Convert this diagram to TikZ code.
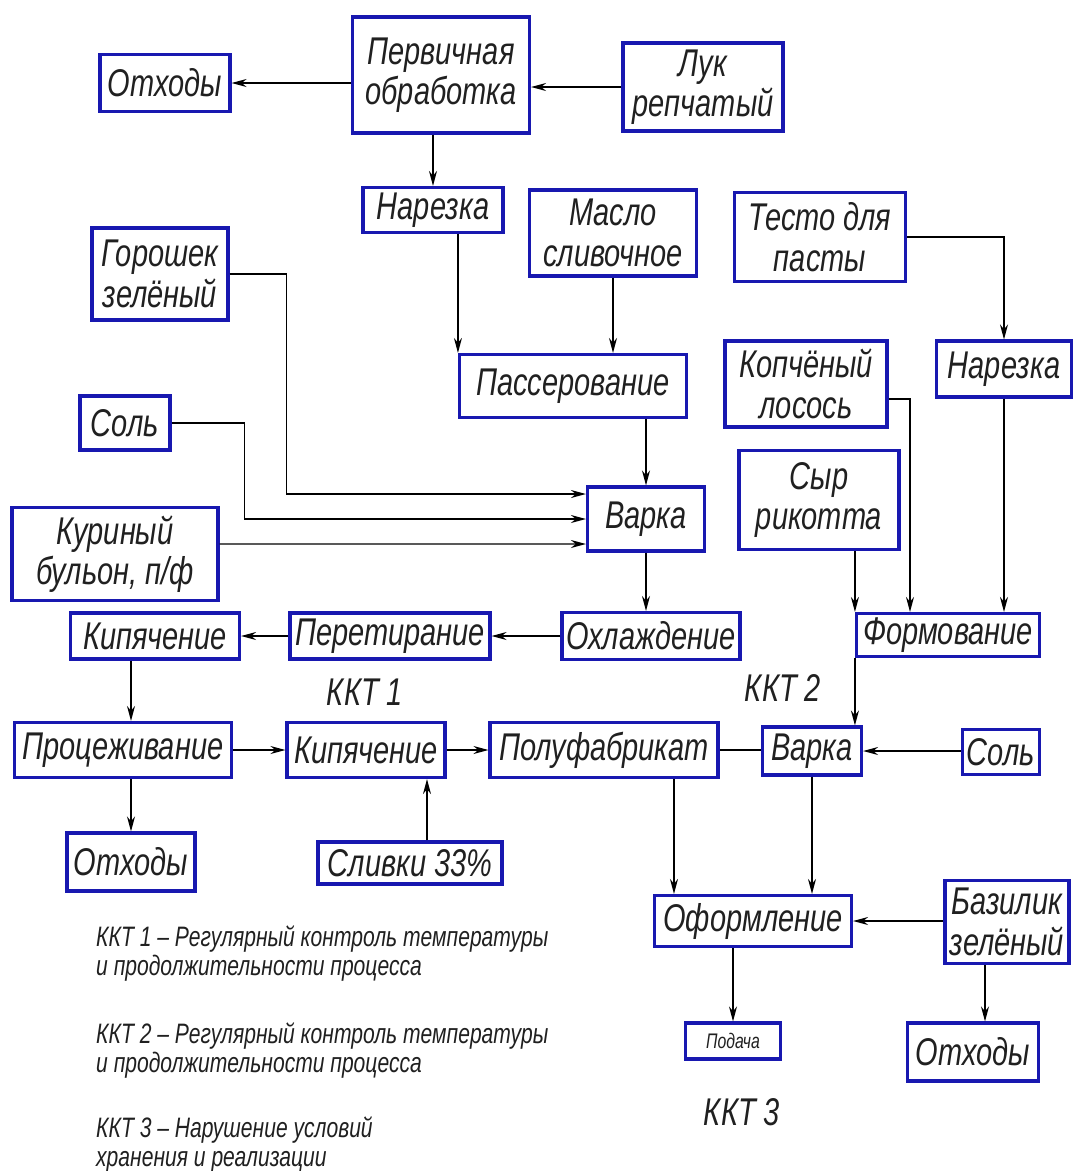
\documentclass[tikz,border=0pt]{standalone}
\usepackage{fontspec}
\setmainfont{Liberation Sans}[FakeStretch=0.75]
\usepackage{tikz}
\usetikzlibrary{positioning,arrows.meta,calc}
\definecolor{bxBlue}{HTML}{1818B0}
\definecolor{txDark}{HTML}{202020}
\tikzset{
  boxb/.style={draw=bxBlue, line width=1.8pt, align=center, inner sep=2pt, text=txDark, font=\itshape\fontsize{22}{23}\selectfont},
  arr/.style={-{Stealth[length=3mm, width=1.6mm]}, line width=0.8pt, black},
  ln/.style={line width=0.8pt, black},
  kkt/.style={font=\itshape\fontsize{22}{23}\selectfont, text=txDark},
  note/.style={font=\itshape\fontsize{16}{16.5}\selectfont, text=txDark, align=left, anchor=west},
}
\begin{document}
\begin{tikzpicture}[x=0.02cm, y=-0.02cm]
  \useasboundingbox (0,0) rectangle (1074,1171);
  % upper part
  \node[boxb, minimum width=2.6cm, minimum height=1.14cm] (otx1) at (165,83) {Отходы};
  \node[boxb, minimum width=3.54cm, minimum height=2.32cm] (perv) at (441,75) {Первичная\\обработка};
  \node[boxb, minimum width=3.2cm, minimum height=1.76cm] (luk) at (703,87) {Лук\\репчатый};
  \node[boxb, minimum width=2.8cm, minimum height=0.9cm] (nar1) at (433,210) {Нарезка};
  \node[boxb, minimum width=3.34cm, minimum height=1.72cm] (maslo) at (613,233) {Масло\\сливочное};
  \node[boxb, minimum width=3.42cm, minimum height=1.78cm] (testo) at (820,237) {Тесто для\\пасты};
  \node[boxb, minimum width=2.72cm, minimum height=1.84cm] (gor) at (160,274) {Горошек\\зелёный};
  \node[boxb, minimum width=4.54cm, minimum height=1.26cm] (pas) at (573,386) {Пассерование};
  \node[boxb, minimum width=3.24cm, minimum height=1.72cm] (kop) at (806,384) {Копчёный\\лосось};
  \node[boxb, minimum width=2.7cm, minimum height=1.12cm] (nar2) at (1004,369) {Нарезка};
  \node[boxb, minimum width=1.8cm, minimum height=1.08cm] (sol1) at (125,423) {Соль};
  \node[boxb, minimum width=2.34cm, minimum height=1.28cm] (var1) at (646,519) {Варка};
  \node[boxb, minimum width=3.2cm, minimum height=1.98cm] (syr) at (819,500) {Сыр\\рикотта};
  \node[boxb, minimum width=4.12cm, minimum height=1.86cm] (kur) at (115,554) {Куриный\\бульон, п/ф};
  % middle rows
  \node[boxb, minimum width=3.38cm, minimum height=0.92cm] (kip1) at (155,636) {Кипячение};
  \node[boxb, minimum width=4.0cm, minimum height=0.92cm] (per) at (390,636) {Перетирание};
  \node[boxb, minimum width=3.56cm, minimum height=0.94cm] (ohl) at (651,636) {Охлаждение};
  \node[boxb, minimum width=3.66cm, minimum height=0.86cm] (form) at (948,635) {Формование};
  \node[boxb, minimum width=4.34cm, minimum height=1.1cm] (proc) at (123,750) {Процеживание};
  \node[boxb, minimum width=3.16cm, minimum height=1.1cm] (kip2) at (366,750) {Кипячение};
  \node[boxb, minimum width=4.56cm, minimum height=1.1cm] (pf) at (604,750) {Полуфабрикат};
  \node[boxb, minimum width=1.98cm, minimum height=0.96cm] (var2) at (812,751) {Варка};
  \node[boxb, minimum width=1.54cm, minimum height=0.9cm] (sol2) at (1001,752) {Соль};
  % lower part
  \node[boxb, minimum width=2.56cm, minimum height=1.16cm] (otx2) at (131,862) {Отходы};
  \node[boxb, minimum width=3.68cm, minimum height=0.84cm] (slv) at (410,863) {Сливки 33\%};
  \node[boxb, minimum width=3.94cm, minimum height=1.02cm] (ofo) at (753,921) {Оформление};
  \node[boxb, minimum width=2.48cm, minimum height=1.66cm] (baz) at (1007,922) {Базилик\\зелёный};
  \node[boxb, minimum width=1.9cm, minimum height=0.72cm, font=\itshape\fontsize{12}{13}\selectfont] (pod) at (733,1041) {Подача};
  \node[boxb, minimum width=2.62cm, minimum height=1.16cm] (otx3) at (973,1052) {Отходы};
  % control points
  \node[kkt] (kkt1) at (365,692) {ККТ 1};
  \node[kkt] (kkt2) at (783,688) {ККТ 2};
  \node[kkt] (kkt3) at (742,1112) {ККТ 3};
  \node[note] (n1) at (90,954) {ККТ 1 – Регулярный контроль температуры\\и продолжительности процесса};
  \node[note] (n2) at (90,1051) {ККТ 2 – Регулярный контроль температуры\\и продолжительности процесса};
  \node[note] (n3) at (90,1145) {ККТ 3 – Нарушение условий\\хранения и реализации};
  % connectors
  \draw[arr] (perv.west |- otx1) -- (otx1.east);
  \draw[arr] (luk.west) -- (luk.west -| perv.east);
  \draw[arr] (perv.south -| nar1) -- (nar1.north);
  \draw[arr] (nar1.south -| pas.west) -- (pas.north west);
  \draw[arr] (maslo.south) -- (maslo.south |- pas.north);
  \draw[arr] (testo.east) -| (nar2.north);
  \draw[arr] (gor.east) -- ++(57,0) |- ([yshift=0.5cm]var1.west);
  \draw[arr] (sol1.east) -- ++(73,0) |- (var1.west);
  \draw[arr] ([yshift=0.2cm]kur.east) -- ([yshift=-0.5cm]var1.west);
  \draw[arr] (pas.south -| var1) -- (var1.north);
  \draw[arr] (var1.south) -- (var1.south |- ohl.north);
  \draw[arr] (ohl.west) -- (per.east);
  \draw[arr] (per.west) -- (kip1.east);
  \draw[arr] (kip1.south -| otx2) -- (proc.north -| otx2);
  \draw[arr] (proc.south -| otx2) -- (otx2.north);
  \draw[arr] (proc.east) -- (kip2.west);
  \draw[arr] (kip2.east) -- (pf.west);
  \draw[arr] ([xshift=0.34cm]slv.north) -- ([xshift=0.34cm]slv.north |- kip2.south);
  \draw[arr] ([yshift=-0.3cm]kop.east) -| ([xshift=-0.76cm]form.north);
  \draw[arr] (nar2.south) -- (nar2.south |- form.north);
  \draw[arr] (syr.south -| form.west) -- (form.north west);
  \draw[arr] (form.south west) -- (form.south west |- var2.north);
  \draw[ln] (pf.east) -- (pf.east -| var2.west);
  \draw[arr] (sol2.west |- var2) -- (var2.east);
  \draw[arr] ([xshift=1.4cm]pf.south) -- ([xshift=1.4cm]pf.south |- ofo.north);
  \draw[arr] (var2.south) -- (var2.south |- ofo.north);
  \draw[arr] (baz.west |- ofo) -- (ofo.east);
  \draw[arr] (ofo.south -| pod) -- (pod.north);
  \draw[arr] ([xshift=-0.44cm]baz.south) -- ([xshift=-0.44cm]baz.south |- otx3.north);
\end{tikzpicture}
\end{document}
